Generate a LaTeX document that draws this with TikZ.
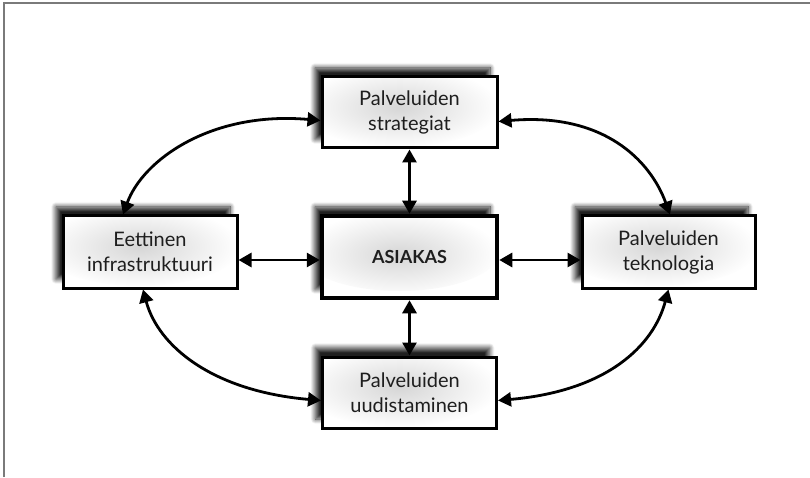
\documentclass[tikz,border=0pt]{standalone}
\usepackage{fontspec}
\setmainfont{Lato}
\usetikzlibrary{arrows.meta,shadows.blur}
\definecolor{txt}{HTML}{1E1E1E}
\definecolor{frame}{HTML}{7A7A7A}
\tikzset{
  box/.style={draw=black, line width=3pt, fill=white, inner sep=0pt, align=center,
    text=txt, font=\fontsize{20}{25}\selectfont,
    blur shadow={shadow xshift=-7pt, shadow yshift=9pt, shadow blur radius=5pt,
      shadow opacity=88, shadow blur steps=10},
    path picture={\shade[inner color=black!16, outer color=white]
      ([xshift=-10pt,yshift=6pt]path picture bounding box.center) ellipse (100pt and 40pt);}},
  midbox/.style={box, line width=4.5pt, font=\fontsize{18}{22}\selectfont\bfseries},
  dbl/.style={line width=2.8pt, {Triangle[length=13pt,width=14pt]}-{Triangle[length=13pt,width=14pt]}},
}
\begin{document}
\begin{tikzpicture}[x=1pt,y=1pt]
\useasboundingbox (0,0) rectangle (810,477);
\draw[frame, line width=1.5pt] (4,0) -- (4,474) -- (810,474);
\node[box, minimum width=175pt, minimum height=71pt] (top) at (409.5,364.5) {Palveluiden\\strategiat};
\node[box, minimum width=174pt, minimum height=72pt] (left) at (150,225) {Eettinen\\infrastruktuuri};
\node[box, minimum width=173pt, minimum height=72pt] (right) at (668.5,225) {Palveluiden\\teknologia};
\node[box, minimum width=174pt, minimum height=71pt] (bot) at (409.5,84.5) {Palveluiden\\uudistaminen};
\node[midbox, minimum width=175pt, minimum height=82pt] (mid) at (409.5,220) {ASIAKAS};
% straight arrows
\draw[dbl] (mid.north) -- (top.south);
\draw[dbl] (mid.south) -- (bot.north);
\draw[dbl] ([yshift=-3pt]mid.west) -- ([yshift=-8pt]left.east);
\draw[dbl] ([yshift=-3pt]mid.east) -- ([yshift=-8pt]right.west);
% curved arrows
\draw[dbl] ([yshift=-8pt]top.west) .. controls +(175:110pt) and +(70:58pt) .. ([xshift=-27pt]left.north);
\draw[dbl] ([yshift=-9pt]top.east) .. controls +(5:105pt) and +(110:58pt) .. ([xshift=1.5pt]right.north);
\draw[dbl] ([xshift=-7pt]left.south) .. controls +(-75:58pt) and +(175:110pt) .. ([yshift=-8pt]bot.west);
\draw[dbl] ([yshift=-8pt]bot.east) .. controls +(5:110pt) and +(-105:58pt) .. (right.south);
\end{tikzpicture}
\end{document}
